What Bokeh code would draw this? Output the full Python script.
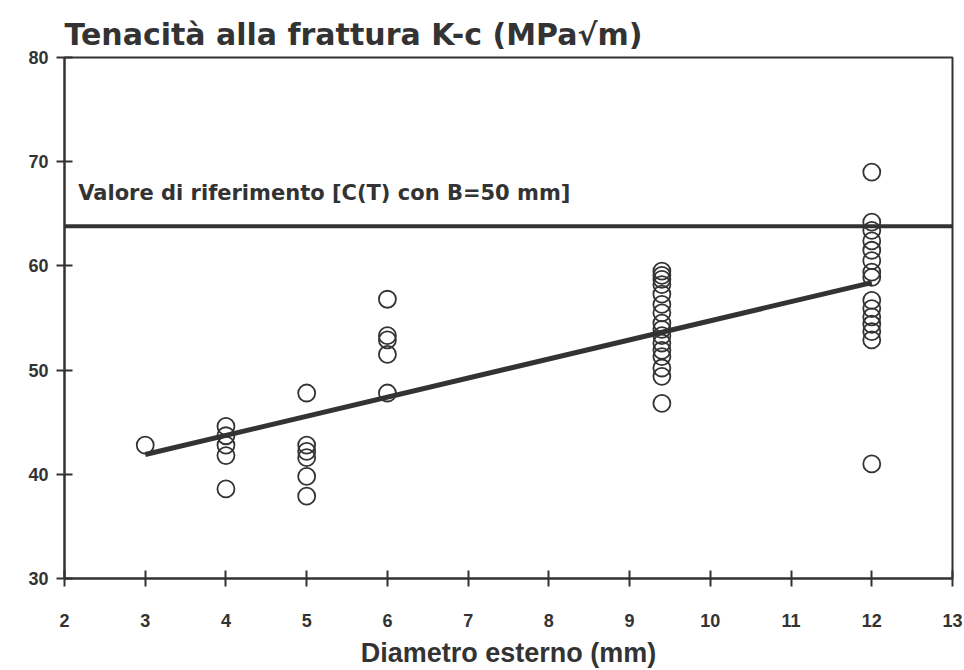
from bokeh.plotting import figure
from bokeh.models import Span, Label, FixedTicker, Range1d
from bokeh.embed import file_html
from bokeh.resources import INLINE

# Fracture toughness measurements by outer diameter
diam_3 = [3.0]
k_3 = [42.8]
diam_4 = [4.0] * 5
k_4 = [44.6, 43.7, 42.8, 41.8, 38.6]
diam_5 = [5.0] * 6
k_5 = [47.8, 42.8, 42.2, 41.6, 39.8, 37.9]
diam_6 = [6.0] * 5
k_6 = [56.8, 53.3, 52.9, 51.5, 47.8]
diam_94 = [9.4] * 16
k_94 = [59.5, 59.1, 58.7, 58.2, 57.3, 56.3, 55.5, 54.5, 53.9, 53.3,
        52.6, 51.9, 51.3, 50.2, 49.4, 46.8]
diam_12 = [12.0] * 15
k_12 = [69.0, 64.2, 63.4, 62.4, 61.5, 60.5, 59.4, 58.9, 56.7, 55.9,
        55.1, 54.4, 53.7, 52.9, 41.0]

# Trend line and reference value
fit_x = [3.0, 12.0]
fit_y = [41.9, 58.4]
ref_value = 63.8
ref_text = "Valore di riferimento [C(T) con B=50 mm]"

x_ticks = list(range(2, 14))
y_ticks = [30, 40, 50, 60, 70, 80]

ink = "#333333"
font = "Liberation Sans"
wide_font = "DejaVu Sans"

p = figure(width=964, height=670, output_backend="svg", toolbar_location=None,
           x_range=Range1d(2, 13), y_range=Range1d(30, 80),
           min_border_left=64, min_border_right=12, min_border_top=57,
           min_border_bottom=91)

p.title.text = "Tenacità alla frattura K-c (MPa\u221am)"
p.title.text_font = wide_font
p.title.text_font_size = "30px"
p.title.text_font_style = "bold"
p.title.text_color = ink
p.title.offset = 0
p.title.standoff = 12

p.grid.visible = False
p.outline_line_color = ink
p.outline_line_width = 2
p.background_fill_color = "white"
p.border_fill_color = "white"

for ax in (p.xaxis[0], p.yaxis[0]):
    ax.axis_line_color = ink
    ax.axis_line_width = 2
    ax.major_tick_line_color = ink
    ax.major_tick_line_width = 2
    ax.major_tick_in = 8
    ax.major_tick_out = 8
    ax.minor_tick_line_color = None
    ax.major_label_text_font = font
    ax.major_label_text_font_size = "18px"
    ax.major_label_text_font_style = "bold"
    ax.major_label_text_color = ink

p.xaxis.ticker = FixedTicker(ticks=x_ticks)
p.yaxis.ticker = FixedTicker(ticks=y_ticks)
p.xaxis.major_label_standoff = 27
p.yaxis.major_label_standoff = 8
p.xaxis.axis_label = "Diametro esterno (mm)"
p.xaxis.axis_label_text_font = font
p.xaxis.axis_label_text_font_size = "27px"
p.xaxis.axis_label_text_font_style = "bold"
p.xaxis.axis_label_text_color = ink
p.xaxis.axis_label_standoff = 8

# Reference level
p.add_layout(Span(location=ref_value, dimension="width",
                  line_color=ink, line_width=4))
p.add_layout(Label(x=2.17, y=67.0, text=ref_text, text_font=wide_font,
                   text_font_size="21px", text_font_style="bold",
                   text_color=ink, text_baseline="middle"))

# Trend line
p.line(fit_x, fit_y, line_color=ink, line_width=5)

# Measurements
for xs, ys in ((diam_3, k_3), (diam_4, k_4), (diam_5, k_5),
               (diam_6, k_6), (diam_94, k_94), (diam_12, k_12)):
    p.scatter(xs, ys, marker="circle", size=17, fill_color=None,
              line_color=ink, line_width=1.8)

open("out.html", "w").write(file_html(p, INLINE))
